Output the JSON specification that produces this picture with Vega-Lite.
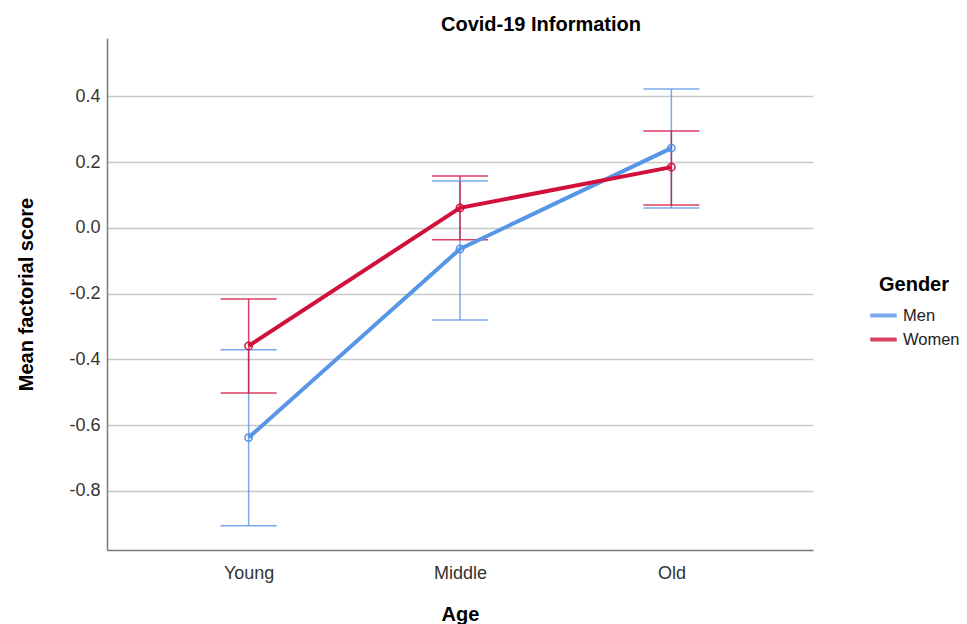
{
  "$schema": "https://vega.github.io/schema/vega-lite/v6.json",
  "autosize": "none",
  "width": 706,
  "height": 512,
  "padding": {"left": 107, "top": 38, "right": 154, "bottom": 74},
  "background": "white",
  "title": {"text": "Covid-19 Information", "font": "Liberation Sans", "fontSize": 20, "fontWeight": "bold", "color": "#000000", "anchor": "middle", "dx": 81, "offset": 3},
  "config": {
    "view": {"stroke": null},
    "font": "Liberation Sans",
    "axis": {"labelFont": "Liberation Sans", "titleFont": "Liberation Sans", "labelColor": "#333333", "titleColor": "#000000", "labelFontSize": 18, "titleFontSize": 20, "titleFontWeight": "bold", "ticks": false, "domainColor": "#7a7a7a", "domainWidth": 1.5, "gridColor": "#c8c8c8", "gridWidth": 1.5},
    "legend": {"labelFont": "Liberation Sans", "titleFont": "Liberation Sans", "labelFontSize": 16.5, "titleFontSize": 20, "titleFontWeight": "bold", "labelColor": "#222222", "titleColor": "#000000"}
  },
  "data": {"values": [
    {"age": "Young", "gender": "Men", "mean": -0.638, "lower": -0.906, "upper": -0.371},
    {"age": "Middle", "gender": "Men", "mean": -0.064, "lower": -0.28, "upper": 0.143},
    {"age": "Old", "gender": "Men", "mean": 0.243, "lower": 0.061, "upper": 0.423},
    {"age": "Young", "gender": "Women", "mean": -0.359, "lower": -0.502, "upper": -0.216},
    {"age": "Middle", "gender": "Women", "mean": 0.061, "lower": -0.036, "upper": 0.158},
    {"age": "Old", "gender": "Women", "mean": 0.185, "lower": 0.07, "upper": 0.295}
  ]},
  "encoding": {
    "x": {"field": "age", "type": "ordinal", "sort": ["Young", "Middle", "Old"], "scale": {"type": "point", "padding": 0.67},
      "axis": {"title": "Age", "labelAngle": 0, "labelPadding": 14, "titlePadding": 22, "grid": false}},
    "color": {"field": "gender", "type": "nominal", "scale": {"domain": ["Men", "Women"], "range": ["#5795e6", "#d1103c"]},
      "legend": {"title": "Gender", "orient": "none", "legendX": 761, "legendY": 237, "symbolType": "stroke", "symbolStrokeWidth": 4, "symbolSize": 700, "titlePadding": 5, "titleAnchor": "middle", "rowPadding": 0, "labelOffset": 4, "padding": 0}}
  },
  "layer": [
    {
      "mark": {"type": "rule", "strokeWidth": 1.5, "opacity": 0.8},
      "encoding": {
        "y": {"field": "lower", "type": "quantitative", "scale": {"domain": [-0.98, 0.578], "nice": false, "zero": false},
          "axis": {"title": "Mean factorial score", "values": [-0.8, -0.6, -0.4, -0.2, 0.0, 0.2, 0.4], "labelExpr": "datum.value < 0 ? '-' + format(-datum.value, '.1f') : format(datum.value, '.1f')", "labelPadding": 7, "titlePadding": 32, "grid": true}},
        "y2": {"field": "upper"}
      }
    },
    {
      "mark": {"type": "tick", "size": 56, "thickness": 1.5, "opacity": 0.8},
      "encoding": {"y": {"field": "lower", "type": "quantitative"}}
    },
    {
      "mark": {"type": "tick", "size": 56, "thickness": 1.5, "opacity": 0.8},
      "encoding": {"y": {"field": "upper", "type": "quantitative"}}
    },
    {
      "mark": {"type": "line", "strokeWidth": 4},
      "encoding": {"y": {"field": "mean", "type": "quantitative"}, "detail": {"field": "gender"}}
    },
    {
      "mark": {"type": "point", "filled": false, "size": 55, "strokeWidth": 1.5, "opacity": 1},
      "encoding": {"y": {"field": "mean", "type": "quantitative"}}
    }
  ]
}
